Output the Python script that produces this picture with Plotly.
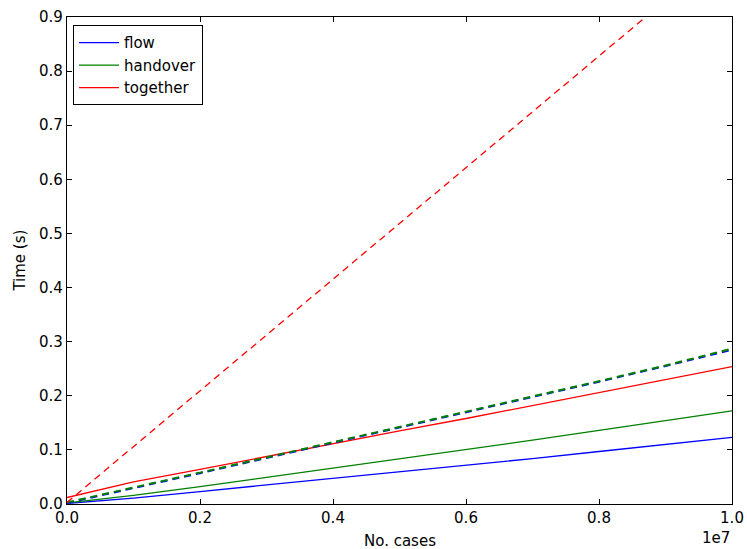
import plotly.graph_objects as go

cases = [0, 1e6, 2e6, 3e6, 4e6, 5e6, 6e6, 7e6, 8e6, 9e6, 1e7]

flow = [0.001, 0.011, 0.023, 0.035, 0.047, 0.059, 0.071, 0.084, 0.097, 0.110, 0.123]
handover = [0.002, 0.016, 0.032, 0.049, 0.066, 0.083, 0.100, 0.118, 0.136, 0.154, 0.172]
together = [0.012, 0.041, 0.064, 0.088, 0.111, 0.135, 0.158, 0.182, 0.206, 0.230, 0.254]

flow_dashed = [0.002, 0.029, 0.057, 0.085, 0.113, 0.141, 0.169, 0.197, 0.226, 0.255, 0.285]
handover_dashed = [0.003, 0.030, 0.058, 0.086, 0.114, 0.142, 0.170, 0.198, 0.227, 0.256, 0.287]
together_dashed = [0.003, 0.106, 0.210, 0.313, 0.416, 0.519, 0.622, 0.725, 0.828, 0.931, 1.034]

x_ticks = [0, 2e6, 4e6, 6e6, 8e6, 1e7]
x_tick_labels = ["0.0", "0.2", "0.4", "0.6", "0.8", "1.0"]
y_ticks = [0.0, 0.1, 0.2, 0.3, 0.4, 0.5, 0.6, 0.7, 0.8, 0.9]
y_tick_labels = ["0.0", "0.1", "0.2", "0.3", "0.4", "0.5", "0.6", "0.7", "0.8", "0.9"]

BLUE = "#0000ff"
GREEN = "#008000"
RED = "#ff0000"
LW = 1.3
DASH = "7px,5px"
FONT = "DejaVu Sans"
FS = 15

fig = go.Figure()
fig.add_trace(go.Scatter(x=cases, y=flow, mode="lines", name="flow",
                         line=dict(color=BLUE, width=LW)))
fig.add_trace(go.Scatter(x=cases, y=handover, mode="lines", name="handover",
                         line=dict(color=GREEN, width=LW)))
fig.add_trace(go.Scatter(x=cases, y=together, mode="lines", name="together",
                         line=dict(color=RED, width=LW)))
fig.add_trace(go.Scatter(x=cases, y=flow_dashed, mode="lines", showlegend=False,
                         line=dict(color=BLUE, width=2, dash=DASH)))
fig.add_trace(go.Scatter(x=cases, y=handover_dashed, mode="lines", showlegend=False,
                         line=dict(color=GREEN, width=2, dash=DASH)))
fig.add_trace(go.Scatter(x=cases, y=together_dashed, mode="lines", showlegend=False,
                         line=dict(color=RED, width=LW, dash=DASH)))

axis_common = dict(
    showgrid=False, zeroline=False, showline=True, linecolor="black", linewidth=1.2,
    mirror="ticks", ticks="inside", ticklen=5, tickcolor="black", tickwidth=1,
    tickfont=dict(family=FONT, size=FS, color="black"), automargin=False,
)

fig.update_xaxes(range=[0, 1e7], tickvals=x_ticks, ticktext=x_tick_labels, **axis_common)
fig.update_yaxes(range=[0, 0.9], tickvals=y_ticks, ticktext=y_tick_labels, **axis_common)

fig.add_annotation(text="No. cases", xref="paper", yref="paper", x=0.5, y=-0.054,
                   xanchor="center", yanchor="top", showarrow=False,
                   font=dict(family=FONT, size=FS, color="black"))
fig.add_annotation(text="Time (s)", xref="paper", yref="paper", x=-0.072, y=0.5,
                   xanchor="center", yanchor="middle", textangle=-90, showarrow=False,
                   font=dict(family=FONT, size=FS, color="black"))
fig.add_annotation(text="1e7", xref="paper", yref="paper", x=1.0, y=-0.048,
                   xanchor="right", yanchor="top", showarrow=False,
                   font=dict(family=FONT, size=FS, color="black"))

fig.update_layout(
    width=747, height=549,
    margin=dict(l=67, r=15, t=17, b=45),
    paper_bgcolor="white", plot_bgcolor="white",
    font=dict(family=FONT, size=FS, color="black"),
    showlegend=True,
    legend=dict(x=0.009, y=0.983, xanchor="left", yanchor="top",
                bgcolor="white", bordercolor="black", borderwidth=1,
                font=dict(family=FONT, size=FS, color="black"),
                itemwidth=40, tracegroupgap=0),
)

fig.write_html("out.html", config={"displayModeBar": False},
               post_script="document.body.style.margin='0';")
